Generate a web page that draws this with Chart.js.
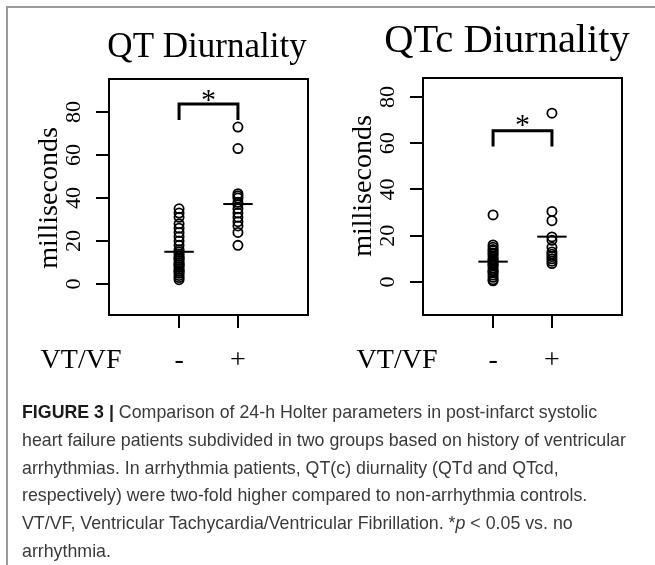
<!DOCTYPE html>
<html>
<head>
<meta charset="utf-8">
<script src="https://cdn.jsdelivr.net/npm/chart.js@4/dist/chart.umd.min.js"></script>
<style>
  html, body { margin: 0; padding: 0; background: #fff; }
  body { width: 655px; height: 565px; position: relative; overflow: hidden; }
  #frame { position: absolute; left: 6px; top: 6px; width: 660px; height: 570px;
           border-left: 2px solid #9a9a9a; border-top: 2px solid #9a9a9a; }
  .panel { position: absolute; top: 0; }
  #caption { position: absolute; left: 22px; top: 399px; width: 630px;
             font-family: "Liberation Sans", Arial, sans-serif; font-size: 17.8px;
             line-height: 27.8px; color: #3a3a3a; white-space: nowrap; }
  #caption b { color: #1a1a1a; }
</style>
</head>
<body>
<div id="frame"></div>
<canvas id="qtChart" class="panel" style="left:0px" width="327" height="400"></canvas>
<canvas id="qtcChart" class="panel" style="left:327px" width="328" height="400"></canvas>
<div id="caption"><b>FIGURE 3 |</b> Comparison of 24-h Holter parameters in post-infarct systolic<br>heart failure patients subdivided in two groups based on history of ventricular<br>arrhythmias. In arrhythmia patients, QT(c) diurnality (QTd and QTcd,<br>respectively) were two-fold higher compared to non-arrhythmia controls.<br>VT/VF, Ventricular Tachycardia/Ventricular Fibrillation. *<i>p</i> &lt; 0.05 vs. no<br>arrhythmia.</div>

<script>
// --- Data (milliseconds) ---
const groups = ['-', '+'];
const yTicks = [0, 20, 40, 60, 80];
const titles = ['QT Diurnality', 'QTc Diurnality'];

const qtMinus = [35, 33, 31, 28, 26, 24, 22, 20, 18, 16, 15, 14, 13, 12, 12, 11, 10, 9, 9, 8, 7, 6, 6, 5, 4, 3, 2];
const qtPlus = [73, 63, 42, 41, 40, 38, 37, 35, 33, 31, 29, 27, 24, 18];
const qtMeans = [15, 37.2];
const qtBracket = [76.3, 83.7];   // leg bottom, bar top
const qtStar = 87;

const qtcMinus = [29, 16, 15, 14, 13.5, 12.5, 12, 11, 10, 9.5, 9, 8, 7.5, 7, 6, 5, 4.5, 4, 3, 2, 1, 0.5];
const qtcPlus = [73, 30.5, 26.5, 19.5, 18, 15, 13, 12, 11, 10, 9, 8];
const qtcMeans = [8.8, 19.6];
const qtcBracket = [58.6, 65.4];
const qtcStar = 69.3;

const serif = '"Liberation Serif", "Times New Roman", serif';

// --- Text, frame and labels drawn on top of the chart ---
const decor = {
  id: 'decor',
  afterDraw(chart, args, o) {
    const { ctx, chartArea: a, scales: { x, y } } = chart;
    ctx.save();
    ctx.strokeStyle = '#000';
    ctx.lineWidth = 2;
    ctx.strokeRect(a.left, a.top, a.right - a.left, a.bottom - a.top);

    ctx.fillStyle = '#000';
    ctx.textAlign = 'center';
    ctx.textBaseline = 'alphabetic';

    // title
    ctx.font = o.titleSize + 'px ' + serif;
    ctx.fillText(o.title, o.titleX, o.titleY);

    // rotated y tick labels + axis title
    ctx.font = '22px ' + serif;
    yTicks.forEach(v => {
      ctx.save();
      ctx.translate(a.left - 29, y.getPixelForValue(v));
      ctx.rotate(-Math.PI / 2);
      ctx.fillText(String(v), 0, 0);
      ctx.restore();
    });
    ctx.save();
    ctx.font = '28px ' + serif;
    ctx.translate(a.left - 52, o.yTitleY);
    ctx.rotate(-Math.PI / 2);
    ctx.fillText('milliseconds', 0, 0);
    ctx.restore();

    // x labels
    ctx.font = '28px ' + serif;
    groups.forEach((g, i) => {
      ctx.fillText(g, x.getPixelForValue(i + 1), 368);
    });
    ctx.fillText('VT/VF', o.vtX, 368);

    // significance star
    ctx.font = '30px ' + serif;
    ctx.fillText('*', x.getPixelForValue(1.5), y.getPixelForValue(o.star) + 12);
    ctx.restore();
  }
};

function buildDatasets(minus, plus, means, bracket) {
  const pts = (vals, gx) => vals.map(v => ({ x: gx, y: v }));
  const pointStyle = {
    pointRadius: 4.6,
    pointBorderWidth: 1.8,
    borderColor: '#000',
    backgroundColor: 'rgba(0,0,0,0)',
    showLine: false
  };
  const sets = [
    { label: groups[0], data: pts(minus, 1), ...pointStyle },
    { label: groups[1], data: pts(plus, 2), ...pointStyle }
  ];
  means.forEach((m, i) => {
    sets.push({
      label: 'mean ' + groups[i],
      data: [{ x: i + 1 - 0.25, y: m }, { x: i + 1 + 0.25, y: m }],
      showLine: true, pointRadius: 0, borderColor: '#000', borderWidth: 2
    });
  });
  sets.push({
    label: 'p<0.05',
    data: [{ x: 1, y: bracket[0] }, { x: 1, y: bracket[1] }, { x: 2, y: bracket[1] }, { x: 2, y: bracket[0] }],
    showLine: true, pointRadius: 0, borderColor: '#000', borderWidth: 3,
    borderJoinStyle: 'miter', borderCapStyle: 'butt'
  });
  return sets;
}

function makePanel(id, p) {
  const canvas = document.getElementById(id);
  const W = canvas.width, H = canvas.height;
  new Chart(canvas, {
    type: 'scatter',
    data: { datasets: buildDatasets(p.minus, p.plus, p.means, p.bracket) },
    options: {
      responsive: false,
      animation: false,
      devicePixelRatio: 1,
      layout: { padding: { top: p.box.top, right: W - p.box.right, left: 0, bottom: 0 } },
      plugins: {
        legend: { display: false },
        tooltip: { enabled: false },
        decor: {
          title: p.title, titleSize: p.titleSize, titleX: p.titleX, titleY: p.titleY,
          yTitleY: p.yTitleY, vtX: p.vtX, star: p.star
        }
      },
      scales: {
        x: {
          type: 'linear',
          min: -0.19, max: 3.19,
          afterBuildTicks: s => { s.ticks = groups.map((g, i) => ({ value: i + 1 })); },
          afterFit: s => { s.height = H - p.box.bottom; },
          ticks: { display: false },
          grid: { drawOnChartArea: false, drawTicks: true, tickLength: 13, color: '#000', lineWidth: 2 },
          border: { display: true, color: '#000', width: 2 }
        },
        y: {
          min: p.yMin, max: p.yMax,
          afterBuildTicks: s => { s.ticks = yTicks.map(v => ({ value: v })); },
          afterFit: s => { s.width = p.box.left; },
          ticks: { display: false },
          grid: { drawOnChartArea: false, drawTicks: true, tickLength: 13, color: '#000', lineWidth: 2 },
          border: { display: true, color: '#000', width: 2 }
        }
      }
    },
    plugins: [decor]
  });
}

makePanel('qtChart', {
  title: titles[0], minus: qtMinus, plus: qtPlus, means: qtMeans, bracket: qtBracket, star: qtStar,
  yMin: -14.4, yMax: 95.35,
  box: { left: 109, top: 79, right: 308, bottom: 315 },
  titleSize: 35, titleX: 207, titleY: 57, yTitleY: 198, vtX: 81
});

makePanel('qtcChart', {
  title: titles[1], minus: qtcMinus, plus: qtcPlus, means: qtcMeans, bracket: qtcBracket, star: qtcStar,
  yMin: -14.27, yMax: 88.2,
  box: { left: 96, top: 78, right: 295, bottom: 315 },
  titleSize: 40.5, titleX: 180, titleY: 52, yTitleY: 186, vtX: 70
});
</script>
</body>
</html>
